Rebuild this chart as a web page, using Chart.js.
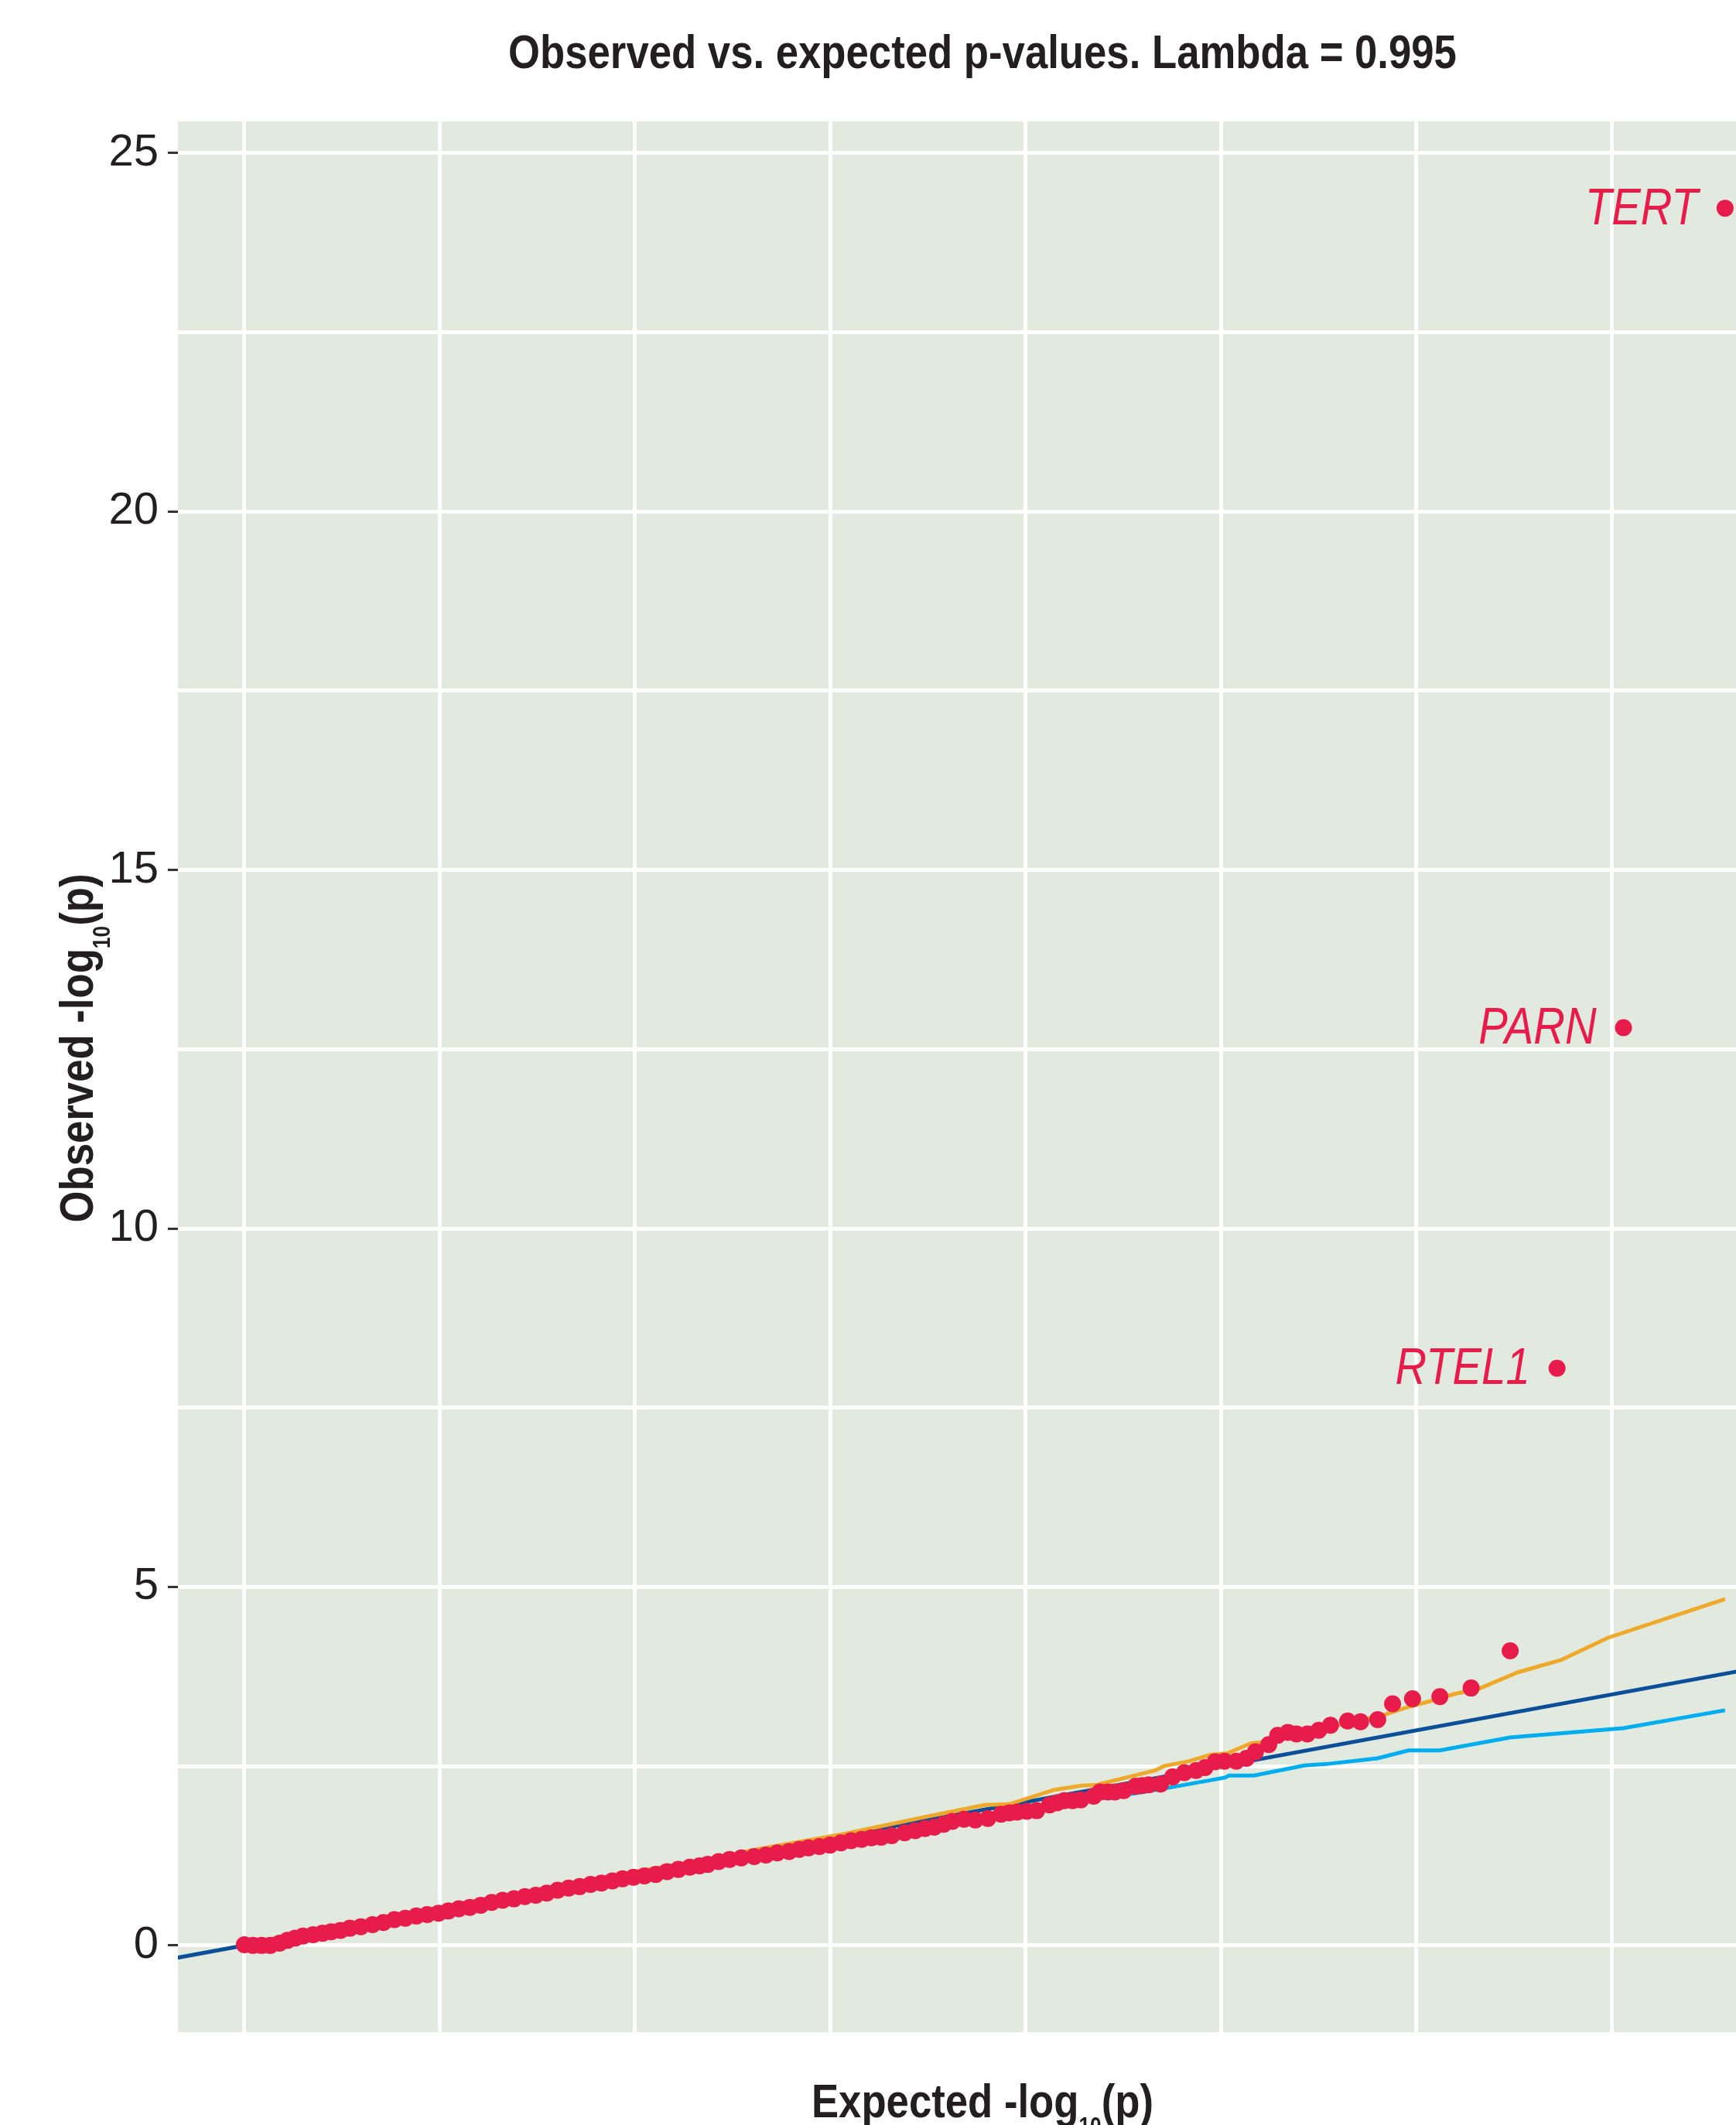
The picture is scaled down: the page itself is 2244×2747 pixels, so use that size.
<!DOCTYPE html>
<html>
<head>
<meta charset="utf-8">
<title>QQ plot</title>
<script src="https://cdn.jsdelivr.net/npm/chart.js@4.4.0/dist/chart.umd.min.js"></script>
<style>
    html, body { margin: 0; padding: 0; background: #ffffff; }
    canvas { display: block; }
</style>
</head>
<body>
<canvas id="qqChart" width="2244" height="2747"></canvas>
<script>
// Observed vs expected -log10(p)
const obsX = [0.000, 0.022, 0.044, 0.066, 0.090, 0.110, 0.130, 0.150, 0.176, 0.200,
    0.222, 0.246, 0.270, 0.298, 0.328, 0.356, 0.384, 0.412, 0.440, 0.468,
    0.497, 0.522, 0.549, 0.577, 0.605, 0.633, 0.661, 0.690, 0.718, 0.746,
    0.774, 0.802, 0.830, 0.858, 0.886, 0.914, 0.942, 0.968, 0.996, 1.024,
    1.053, 1.082, 1.111, 1.140, 1.165, 1.186, 1.214, 1.242, 1.272, 1.305,
    1.335, 1.364, 1.394, 1.420, 1.444, 1.472, 1.499, 1.527, 1.553, 1.580,
    1.605, 1.630, 1.657, 1.690, 1.717, 1.742, 1.766, 1.790, 1.812, 1.842,
    1.871, 1.903, 1.937, 1.958, 1.978, 2.003, 2.028, 2.061, 2.080, 2.099,
    2.120, 2.141, 2.174, 2.190, 2.210, 2.228, 2.251, 2.281, 2.298, 2.315,
    2.345, 2.376, 2.406, 2.436, 2.459, 2.485, 2.509, 2.539, 2.565, 2.588,
    2.622, 2.645, 2.671, 2.693, 2.721, 2.750, 2.780, 2.824, 2.857, 2.901,
    2.939, 2.990, 3.060, 3.140, 3.240];
const obsY = [0.01, 0.00, 0.00, 0.00, 0.03, 0.07, 0.10, 0.13, 0.15, 0.17,
    0.19, 0.21, 0.24, 0.26, 0.29, 0.32, 0.36, 0.38, 0.41, 0.43,
    0.45, 0.48, 0.51, 0.53, 0.56, 0.60, 0.63, 0.65, 0.68, 0.70,
    0.73, 0.77, 0.80, 0.82, 0.85, 0.87, 0.90, 0.93, 0.95, 0.97,
    0.99, 1.03, 1.06, 1.09, 1.11, 1.13, 1.17, 1.20, 1.22, 1.24,
    1.26, 1.29, 1.31, 1.34, 1.36, 1.38, 1.40, 1.43, 1.46, 1.48,
    1.50, 1.51, 1.53, 1.57, 1.60, 1.63, 1.65, 1.69, 1.73, 1.76,
    1.75, 1.77, 1.83, 1.85, 1.86, 1.87, 1.88, 1.96, 1.99, 2.02,
    2.02, 2.03, 2.08, 2.14, 2.14, 2.14, 2.16, 2.22, 2.23, 2.24,
    2.25, 2.35, 2.41, 2.44, 2.48, 2.56, 2.57, 2.57, 2.61, 2.70,
    2.80, 2.93, 2.97, 2.95, 2.95, 3.00, 3.07, 3.13, 3.12, 3.15,
    3.37, 3.44, 3.47, 3.59, 4.11];

// Labelled top hits
const hitGenes = ['RTEL1', 'PARN', 'TERT'];
const hitX = [3.36, 3.53, 3.79];
const hitY = [8.05, 12.80, 24.23];

// Confidence band (upper = orange, lower = light blue)
const upperX = [0.00, 0.50, 1.00, 1.20, 1.30, 1.54, 1.75, 1.895, 1.958, 2.073,
    2.144, 2.182, 2.331, 2.353, 2.418, 2.474, 2.516, 2.577, 2.600, 2.750,
    2.920, 2.970, 3.030, 3.100, 3.160, 3.260, 3.370, 3.490, 3.790];
const upperY = [0.02, 0.53, 1.03, 1.21, 1.33, 1.56, 1.80, 1.96, 1.97, 2.17,
    2.23, 2.24, 2.44, 2.50, 2.57, 2.66, 2.68, 2.82, 2.83, 3.01,
    3.22, 3.31, 3.40, 3.51, 3.58, 3.81, 3.98, 4.29, 4.83];
const lowerX = [0.00, 0.50, 1.00, 1.50, 1.75, 2.00, 2.28, 2.356, 2.51, 2.52,
    2.584, 2.713, 2.77, 2.90, 2.98, 3.06, 3.24, 3.53, 3.79];
const lowerY = [0.00, 0.46, 0.95, 1.43, 1.67, 1.90, 2.12, 2.19, 2.34, 2.37,
    2.37, 2.51, 2.53, 2.61, 2.72, 2.72, 2.90, 3.03, 3.28];

// Identity line, clipped to the panel
const diagX = [-0.5, 4.5];
const diagY = [-0.5, 4.5];

// Axis ticks
const yTicks = [0, 2.5, 5, 7.5, 10, 12.5, 15, 17.5, 20, 22.5, 25];
const xTicks = [0, 0.5, 1, 1.5, 2, 2.5, 3, 3.5];

const TITLE = 'Observed vs. expected p-values. Lambda = 0.995';
const SANS = '"Liberation Sans", Arial, sans-serif';
const CONDENSE = 0.85;   // horizontal squeeze for the condensed headline face

const RED = '#E81C4A';
const ORANGE = '#EEA92A';
const CYAN = '#00AEEF';
const NAVY = '#0B4F98';
const PANEL = '#E2EAE0';

function toPoints(xs, ys) {
    return xs.map((x, i) => ({ x: x, y: ys[i] }));
}

// Panel background behind the grid
const panelBackground = {
    id: 'panelBackground',
    beforeDraw(chart) {
        const { ctx, chartArea } = chart;
        ctx.save();
        ctx.fillStyle = PANEL;
        ctx.fillRect(chartArea.left, chartArea.top, chartArea.right - chartArea.left, chartArea.bottom - chartArea.top);
        ctx.restore();
    }
};

// Draws "main" + subscript + "tail" centered on the current origin
function drawSubText(ctx, main, sub, tail, size) {
    const mainFont = 'bold ' + size + 'px ' + SANS;
    const subFont = 'bold ' + Math.round(size * 0.5) + 'px ' + SANS;
    ctx.font = mainFont;
    const w1 = ctx.measureText(main).width;
    const w3 = ctx.measureText(tail).width;
    ctx.font = subFont;
    const w2 = ctx.measureText(sub).width;
    let x = -(w1 + w2 + w3) / 2;
    ctx.textAlign = 'left';
    ctx.textBaseline = 'alphabetic';
    ctx.font = mainFont;
    ctx.fillText(main, x, 0);
    x += w1;
    ctx.font = subFont;
    ctx.fillText(sub, x, size * 0.36);
    x += w2;
    ctx.font = mainFont;
    ctx.fillText(tail, x, 0);
}

// Title, axis titles and gene labels
const annotations = {
    id: 'annotations',
    afterDraw(chart) {
        const ctx = chart.ctx;
        ctx.save();
        ctx.fillStyle = '#231F20';

        // Title
        ctx.save();
        ctx.translate(1270, 88);
        ctx.scale(CONDENSE, 1);
        ctx.font = 'bold 62px ' + SANS;
        ctx.textAlign = 'center';
        ctx.textBaseline = 'alphabetic';
        ctx.fillText(TITLE, 0, 0);
        ctx.restore();

        // X axis title
        ctx.save();
        ctx.translate(1270, 2737);
        ctx.scale(CONDENSE, 1);
        drawSubText(ctx, 'Expected -log', '10', '(p)', 62);
        ctx.restore();

        // Y axis title
        ctx.save();
        ctx.translate(120, 1355);
        ctx.rotate(-Math.PI / 2);
        ctx.scale(CONDENSE, 1);
        drawSubText(ctx, 'Observed -log', '10', '(p)', 62);
        ctx.restore();

        // Gene labels to the left of the top hits
        const meta = chart.getDatasetMeta(1);
        ctx.fillStyle = RED;
        meta.data.forEach((pt, i) => {
            ctx.save();
            ctx.translate(pt.x - 35, pt.y + 2);
            ctx.scale(0.84, 1);
            ctx.font = 'italic 67px ' + SANS;
            ctx.textAlign = 'right';
            ctx.textBaseline = 'middle';
            ctx.fillText(hitGenes[i], 0, 0);
            ctx.restore();
        });
        ctx.restore();
    }
};

const ctx = document.getElementById('qqChart');

const qqChart = new Chart(ctx, {
    type: 'scatter',
    data: {
        datasets: [
            {
                label: 'Genes',
                data: toPoints(obsX, obsY),
                backgroundColor: RED,
                borderWidth: 0,
                pointRadius: 11,
                order: 0
            },
            {
                label: 'Top hits',
                data: toPoints(hitX, hitY),
                backgroundColor: RED,
                borderWidth: 0,
                pointRadius: 11,
                order: 0
            },
            {
                label: 'Upper',
                data: toPoints(upperX, upperY),
                showLine: true,
                borderColor: ORANGE,
                borderWidth: 5,
                pointRadius: 0,
                fill: false,
                order: 1
            },
            {
                label: 'Lower',
                data: toPoints(lowerX, lowerY),
                showLine: true,
                borderColor: CYAN,
                borderWidth: 5,
                pointRadius: 0,
                fill: false,
                order: 1
            },
            {
                label: 'Expected',
                data: toPoints(diagX, diagY),
                showLine: true,
                borderColor: NAVY,
                borderWidth: 5,
                pointRadius: 0,
                fill: false,
                order: 2
            }
        ]
    },
    options: {
        responsive: false,
        devicePixelRatio: 1,
        animation: false,
        events: [],
        layout: {
            autoPadding: false,
            padding: { top: 157, right: 0, bottom: 0, left: 0 }
        },
        plugins: {
            legend: { display: false },
            tooltip: { enabled: false },
            title: { display: false }
        },
        scales: {
            x: {
                type: 'linear',
                min: -0.17,
                max: 3.818,
                afterBuildTicks(scale) {
                    scale.ticks = xTicks.map(v => ({ value: v }));
                },
                afterFit(scale) {
                    scale.height = 120;
                },
                ticks: { display: false },
                grid: {
                    color: '#ffffff',
                    lineWidth: 5,
                    drawTicks: false
                },
                border: { display: false }
            },
            y: {
                type: 'linear',
                min: -1.21,
                max: 25.44,
                afterBuildTicks(scale) {
                    scale.ticks = yTicks.map(v => ({ value: v }));
                },
                afterFit(scale) {
                    scale.width = 230;
                },
                ticks: {
                    autoSkip: false,
                    padding: 12,
                    color: '#231F20',
                    font: { family: SANS, size: 58 },
                    callback: function(value) {
                        return value % 5 === 0 ? String(value) : '';
                    }
                },
                grid: {
                    color: '#ffffff',
                    lineWidth: 5,
                    drawTicks: true,
                    tickLength: 13,
                    tickWidth: 3,
                    tickColor: function(context) {
                        return context.tick && context.tick.value % 5 === 0 ? '#333333' : 'rgba(0,0,0,0)';
                    }
                },
                border: { display: false }
            }
        }
    },
    plugins: [panelBackground, annotations]
});
</script>
</body>
</html>
